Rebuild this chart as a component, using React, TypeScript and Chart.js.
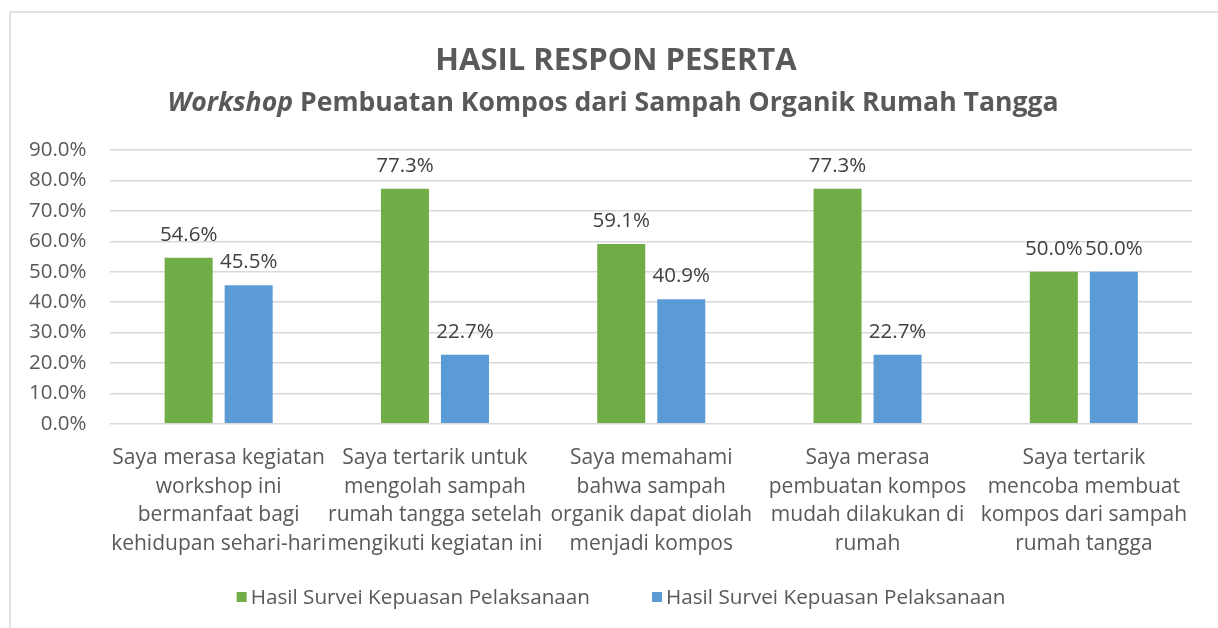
import React, { useEffect, useRef } from "react";
import { Chart, registerables } from "chart.js";

Chart.register(...registerables);

const TITLE = "HASIL RESPON PESERTA";
const SUBTITLE_ITALIC = "Workshop";
const SUBTITLE_REST = " Pembuatan Kompos dari Sampah Organik Rumah Tangga";

const categories: string[][] = [
  ["Saya merasa kegiatan", "workshop ini", "bermanfaat bagi", "kehidupan sehari-hari"],
  ["Saya tertarik untuk", "mengolah sampah", "rumah tangga setelah", "mengikuti kegiatan ini"],
  ["Saya memahami", "bahwa sampah", "organik dapat diolah", "menjadi kompos"],
  ["Saya merasa", "pembuatan kompos", "mudah dilakukan di", "rumah"],
  ["Saya tertarik", "mencoba membuat", "kompos dari sampah", "rumah tangga"],
];

const seriesNames = [
  "Hasil Survei Kepuasan Pelaksanaan",
  "Hasil Survei Kepuasan Pelaksanaan",
];
const seriesA = [54.6, 77.3, 59.1, 77.3, 50.0];
const seriesB = [45.5, 22.7, 40.9, 22.7, 50.0];
const seriesColors = ["#70AD47", "#5B9BD5"];

const yMax = 90;
const yStep = 10;

const FONT = "'Open Sans', 'Noto Sans', sans-serif";
const TEXT = "#595959";

const decorPlugin = {
  id: "decor",
  beforeDraw(chart: any) {
    const ctx = chart.ctx;
    ctx.save();
    ctx.fillStyle = "#ffffff";
    ctx.fillRect(0, 0, chart.width, chart.height);
    ctx.strokeStyle = "#d9d9d9";
    ctx.lineWidth = 1.5;
    ctx.strokeRect(10, 12, chart.width + 20, chart.height + 20);
    ctx.restore();
  },
  afterDraw(chart: any) {
    const ctx = chart.ctx;
    ctx.save();
    ctx.fillStyle = TEXT;
    ctx.textBaseline = "alphabetic";
    ctx.textAlign = "center";
    ctx.font = `bold 31px ${FONT}`;
    ctx.fillText(TITLE, 616, 70);

    // subtitle with italic first word
    const fItal = `italic bold 26.6px ${FONT}`;
    const fBold = `bold 26.6px ${FONT}`;
    ctx.font = fItal;
    const w1 = ctx.measureText(SUBTITLE_ITALIC).width;
    ctx.font = fBold;
    const w2 = ctx.measureText(SUBTITLE_REST).width;
    const start = 613 - (w1 + w2) / 2;
    ctx.textAlign = "left";
    ctx.font = fItal;
    ctx.fillText(SUBTITLE_ITALIC, start, 111);
    ctx.font = fBold;
    ctx.fillText(SUBTITLE_REST, start + w1, 111);

    // legend
    ctx.font = `20.7px ${FONT}`;
    const box = 10;
    const gapBox = 4;
    const gapItem = 62;
    const widths = chart.data.datasets.map((d: any) => ctx.measureText(d.label).width);
    const total =
      widths.reduce((a: number, b: number) => a + b, 0) +
      widths.length * (box + gapBox) +
      gapItem * (widths.length - 1);
    let x = 621 - total / 2;
    const cy = 597;
    chart.data.datasets.forEach((d: any, i: number) => {
      ctx.fillStyle = d.backgroundColor;
      ctx.fillRect(x, cy - box / 2, box, box);
      x += box + gapBox;
      ctx.fillStyle = TEXT;
      ctx.textBaseline = "middle";
      ctx.fillText(d.label, x, cy + 1);
      x += widths[i] + gapItem;
    });
    ctx.restore();
  },
  afterDatasetsDraw(chart: any) {
    const ctx = chart.ctx;
    ctx.save();
    ctx.font = `20.5px ${FONT}`;
    ctx.fillStyle = "#404040";
    ctx.textAlign = "center";
    ctx.textBaseline = "alphabetic";
    chart.data.datasets.forEach((ds: any, di: number) => {
      const meta = chart.getDatasetMeta(di);
      meta.data.forEach((el: any, i: number) => {
        const v = ds.data[i] as number;
        ctx.fillText(v.toFixed(1) + "%", el.x, el.y - 17);
      });
    });
    ctx.restore();
  },
};

export default function App() {
  const ref = useRef<HTMLCanvasElement | null>(null);
  useEffect(() => {
    document.body.style.margin = "0";
    const canvas = ref.current!;
    const chart = new Chart(canvas, {
      type: "bar",
      data: {
        labels: categories,
        datasets: [
          {
            label: seriesNames[0],
            data: seriesA,
            backgroundColor: seriesColors[0],
            categoryPercentage: 0.555,
            barPercentage: 0.8,
          },
          {
            label: seriesNames[1],
            data: seriesB,
            backgroundColor: seriesColors[1],
            categoryPercentage: 0.555,
            barPercentage: 0.8,
          },
        ],
      },
      options: {
        responsive: false,
        animation: false,
        layout: { padding: { top: 150, left: 5, right: 26, bottom: 58 } },
        plugins: {
          legend: { display: false },
          title: { display: false },
          tooltip: { enabled: false },
        },
        scales: {
          x: {
            grid: { display: false },
            border: { display: false },
            ticks: {
              color: TEXT,
              font: { family: FONT, size: 21, lineHeight: 1.36 },
              maxRotation: 0,
              minRotation: 0,
              autoSkip: false,
              padding: 12,
            },
          },
          y: {
            min: 0,
            max: yMax,
            border: { display: false },
            grid: { color: "#d9d9d9", lineWidth: 1.5, drawTicks: false },
            ticks: {
              stepSize: yStep,
              color: TEXT,
              padding: 24,
              font: { family: FONT, size: 20.5 },
              callback: (v: any) => Number(v).toFixed(1) + "%",
            },
          },
        },
      },
      plugins: [decorPlugin],
    });
    return () => chart.destroy();
  }, []);
  return <canvas ref={ref} width={1218} height={628} style={{ display: "block" }} />;
}
